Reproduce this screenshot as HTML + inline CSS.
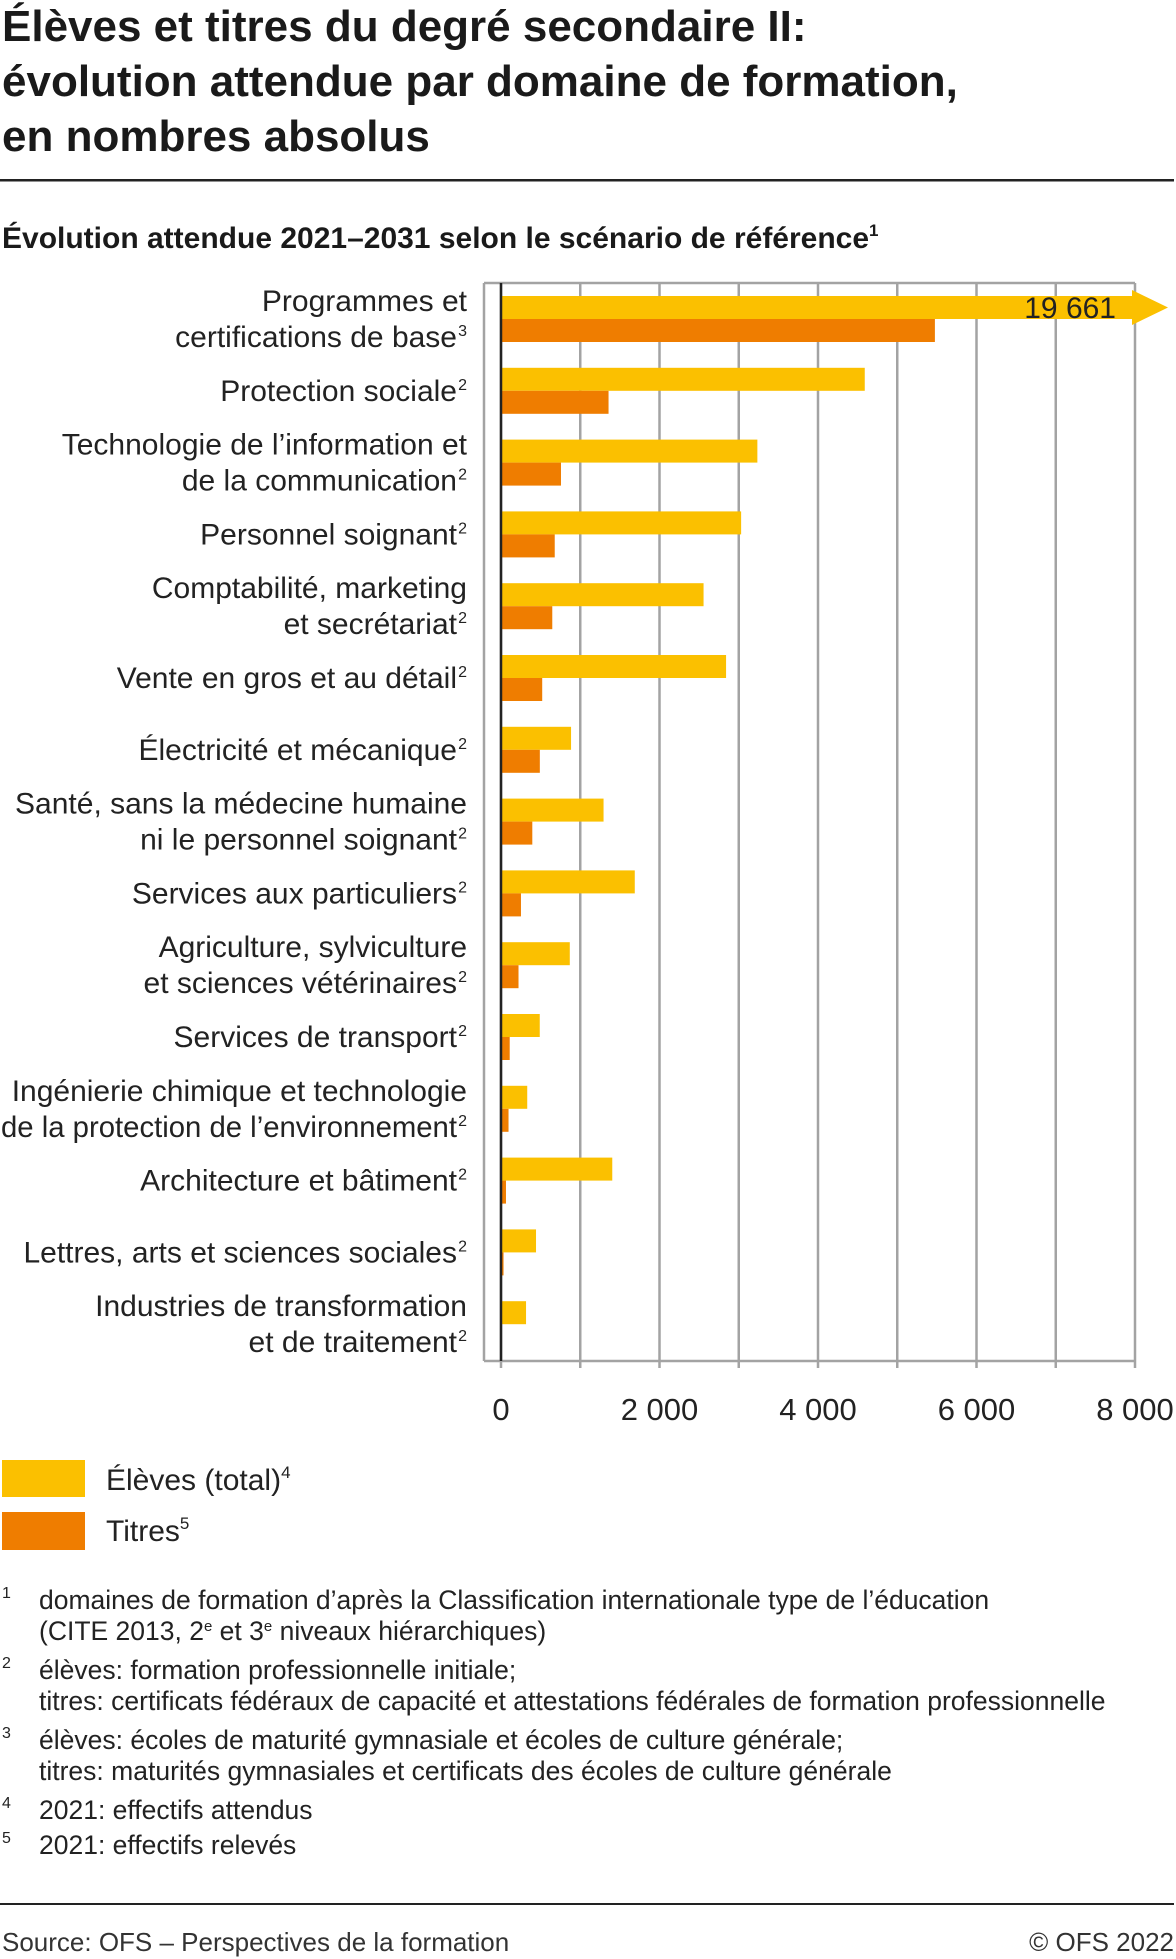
<!DOCTYPE html>
<html><head><meta charset="utf-8"><style>
html,body{margin:0;padding:0;background:#fff;}
svg{display:block;font-family:"Liberation Sans",sans-serif;}
</style></head><body>
<svg id="c" width="1176" height="1959" viewBox="0 0 1176 1959" xmlns="http://www.w3.org/2000/svg">
<g font-weight="bold" font-size="44" fill="#1a1a1a">
<text x="2" y="41">Élèves et titres du degré secondaire II:</text>
<text x="2" y="96">évolution attendue par domaine de formation,</text>
<text x="2" y="151">en nombres absolus</text>
</g>
<rect x="0" y="179" width="1174" height="2.5" fill="#222"/>
<text x="2" y="248" font-size="30" font-weight="bold" fill="#1a1a1a">Évolution attendue 2021–2031 selon le scénario de référence<tspan font-size="17" dy="-12">1</tspan></text>
<g id="plot"></g>
<g>
<rect x="2" y="1460" width="83" height="37" fill="#FBC000"/>
<text x="106" y="1490" font-size="30" fill="#222">Élèves (total)<tspan font-size="17" dy="-12">4</tspan></text>
<rect x="2" y="1512" width="83" height="38" fill="#EF7D00"/>
<text x="106" y="1541" font-size="30" fill="#222">Titres<tspan font-size="17" dy="-12">5</tspan></text>
</g>
<g font-size="26.5" fill="#222">
<text x="2" y="1598" font-size="16">1</text><text x="39" y="1609">domaines de formation d’après la Classification internationale type de l’éducation</text>
<text x="39" y="1640">(CITE 2013, 2<tspan font-size="15" dy="-9">e</tspan><tspan dy="9"> et 3</tspan><tspan font-size="15" dy="-9">e</tspan><tspan dy="9"> niveaux hiérarchiques)</tspan></text>
<text x="2" y="1668" font-size="16">2</text><text x="39" y="1679">élèves: formation professionnelle initiale;</text>
<text x="39" y="1710">titres: certificats fédéraux de capacité et attestations fédérales de formation professionnelle</text>
<text x="2" y="1738" font-size="16">3</text><text x="39" y="1749">élèves: écoles de maturité gymnasiale et écoles de culture générale;</text>
<text x="39" y="1780">titres: maturités gymnasiales et certificats des écoles de culture générale</text>
<text x="2" y="1808" font-size="16">4</text><text x="39" y="1819">2021: effectifs attendus</text>
<text x="2" y="1843" font-size="16">5</text><text x="39" y="1854">2021: effectifs relevés</text>
</g>
<rect x="0" y="1903" width="1174" height="2" fill="#222"/>
<text x="2" y="1951" font-size="26" fill="#333">Source: OFS – Perspectives de la formation</text>
<text x="1174" y="1951" font-size="26" fill="#333" text-anchor="end">© OFS 2022</text>
</svg>
<script>
const categories = [
 ["Programmes et","certifications de base|3"],
 ["Protection sociale|2"],
 ["Technologie de l’information et","de la communication|2"],
 ["Personnel soignant|2"],
 ["Comptabilité, marketing","et secrétariat|2"],
 ["Vente en gros et au détail|2"],
 ["Électricité et mécanique|2"],
 ["Santé, sans la médecine humaine","ni le personnel soignant|2"],
 ["Services aux particuliers|2"],
 ["Agriculture, sylviculture","et sciences vétérinaires|2"],
 ["Services de transport|2"],
 ["Ingénierie chimique et technologie","de la protection de l’environnement|2"],
 ["Architecture et bâtiment|2"],
 ["Lettres, arts et sciences sociales|2"],
 ["Industries de transformation","et de traitement|2"]
];
const eleves = [19661, 4590, 3235, 3030, 2556, 2840, 884, 1294, 1688, 868, 489, 331, 1404, 442, 316];
const titres = [5475, 1357, 757, 678, 647, 520, 490, 395, 252, 221, 110, 95, 63, 32, 10];
const xTicks = [0, 2000, 4000, 6000, 8000];
const xTickLabels = ["0", "2 000", "4 000", "6 000", "8 000"];
const xMax = 8000;

const NS = "http://www.w3.org/2000/svg";
const g = document.getElementById('plot');
const X0 = 501, X1 = 1135, TOP = 283, BOT = 1361, LEFT = 484;
const x = v => X0 + (Math.min(v, xMax) / xMax) * (X1 - X0);
const step = 71.8, barH = 23, firstTop = 296;
function mk(tag, attrs) { const e = document.createElementNS(NS, tag); for (const k in attrs) e.setAttribute(k, attrs[k]); g.appendChild(e); return e; }

for (let v = 0; v <= xMax; v += 1000) {
  const l = mk('line', {x1: x(v), x2: x(v), y1: TOP, y2: BOT + 7, stroke: '#a3a3a3', 'stroke-width': 2.5});
  
  
}
const lf = mk('line', {x1: LEFT, x2: LEFT, y1: TOP, y2: BOT, stroke: '#a3a3a3', 'stroke-width': 2.5});


const tf = mk('line', {x1: LEFT, x2: X1, y1: TOP, y2: TOP, stroke: '#a3a3a3', 'stroke-width': 2.5});


const bf = mk('line', {x1: LEFT, x2: X1, y1: BOT, y2: BOT, stroke: '#a3a3a3', 'stroke-width': 2.5});



xTicks.forEach((t, i) => {
  const tx = mk('text', {x: x(t), y: 1420, 'font-size': 31, fill: '#222', 'text-anchor': 'middle'});
  tx.textContent = xTickLabels[i];
  
  
});

categories.forEach((lines, i) => {
  const yt = firstTop + i * step;
  const b1 = mk('rect', {x: X0, y: yt, width: Math.max(0, x(eleves[i]) - X0), height: barH, fill: '#FBC000'});
  
  
  if (eleves[i] > xMax) {
    const ah = mk('polygon', {points: `${X1 - 3},${yt - 6} ${X1 + 33},${yt + barH / 2} ${X1 - 3},${yt + barH + 6}`, fill: '#FBC000'});
    
    
    const vl = mk('text', {x: 1116, y: yt + barH - 1, 'font-size': 30, fill: '#222', 'text-anchor': 'end'});
    vl.textContent = String(eleves[i]).replace(/\B(?=(\d{3})+(?!\d))/g, ' ');
    
    
  }
  const b2 = mk('rect', {x: X0, y: yt + barH, width: Math.max(0, x(titres[i]) - X0), height: barH, fill: '#EF7D00'});
  
  
  const cy = yt + barH;
  lines.forEach((ln, j) => {
    const ly = lines.length === 1 ? cy + 10 : cy - 18 + j * 36 + 10;
    const parts = ln.split('|');
    const t = mk('text', {x: 467, y: ly, 'font-size': 30, fill: '#222', 'text-anchor': 'end'});
    
    
    if (parts[1]) {
      t.setAttribute('x', 457);
      t.textContent = parts[0];
      const s = mk('text', {x: 467, y: ly - 11, 'font-size': 16, fill: '#222', 'text-anchor': 'end'});
      s.textContent = parts[1];
      
      
    } else t.textContent = parts[0];
    const maxW = parseFloat(t.getAttribute('x')) - 1;
    if (t.getComputedTextLength() > maxW) {
      t.setAttribute('textLength', maxW);
      t.setAttribute('lengthAdjust', 'spacingAndGlyphs');
    }
  });
});
const zl = mk('line', {x1: X0, x2: X0, y1: TOP, y2: BOT, stroke: '#222', 'stroke-width': 2.5});


</script>
</body></html>
